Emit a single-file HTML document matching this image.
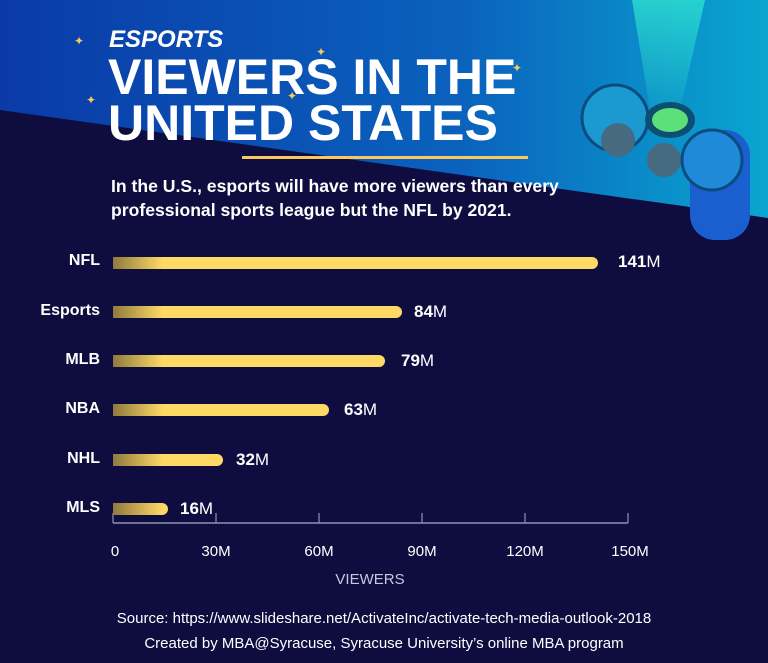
<!DOCTYPE html>
<html><head><meta charset="utf-8"><style>
body{margin:0;width:768px;height:663px;overflow:hidden;background:#0f0d40;font-family:"Liberation Sans",sans-serif;}
.wrap{position:relative;width:768px;height:663px;}
.t{position:absolute;color:#fff;white-space:nowrap}
.lab{position:absolute;right:668px;font-weight:bold;font-size:16px;color:#fff}
.bar{position:absolute;left:113px;height:12px;border-radius:0 6px 6px 0;background:linear-gradient(90deg,#8f7a3e 0px,#ffd966 50px,#ffd966 100%)}
.val{position:absolute;color:#fff;font-size:17px}
.tk{position:absolute;font-size:15px;color:#fff;transform:translateX(-50%)}
</style></head><body><div class="wrap">
<svg width="768" height="663" style="position:absolute;left:0;top:0">
<defs><linearGradient id="g" x1="0" y1="0" x2="1" y2="0"><stop offset="0" stop-color="#0a3aa8"/><stop offset="0.6" stop-color="#0a62bd"/><stop offset="1" stop-color="#0aa6cf"/></linearGradient>
<linearGradient id="b" x1="0" y1="0" x2="0" y2="1"><stop offset="0" stop-color="#2ee0d0" stop-opacity="0.8"/><stop offset="1" stop-color="#2ee0d0" stop-opacity="0.1"/></linearGradient></defs>
<polygon points="0,0 768,0 768,218 0,110" fill="url(#g)"/>
<polygon points="632,0 705,0 680,110 650,110" fill="url(#b)"/>
<g>
<rect x="690" y="130" width="60" height="110" rx="25" fill="#1a5fd0"/>
<circle cx="615" cy="118" r="33" fill="#1a9ad0" stroke="#0d4a80" stroke-width="3"/>
<ellipse cx="670" cy="120" rx="25" ry="18" fill="#0c4f70"/>
<ellipse cx="670" cy="120" rx="18" ry="12" fill="#5be07a"/>
<circle cx="618" cy="140" r="17" fill="#466a80"/>
<circle cx="664" cy="160" r="17" fill="#466a80"/>
<circle cx="712" cy="160" r="30" fill="#1f8ad8" stroke="#0d4a80" stroke-width="3"/>
</g>
<rect x="242" y="156" width="286" height="3" fill="#f6c85f"/>
<line x1="113" y1="523" x2="628" y2="523" stroke="#9090b0" stroke-width="1.5"/>
<g stroke="#9090b0" stroke-width="1.2">
<line x1="113" y1="513" x2="113" y2="523"/><line x1="216" y1="513" x2="216" y2="523"/><line x1="319" y1="513" x2="319" y2="523"/><line x1="422" y1="513" x2="422" y2="523"/><line x1="525" y1="513" x2="525" y2="523"/><line x1="628" y1="513" x2="628" y2="523"/>
</g>
<g fill="#f6c85f" font-size="12"><text x="74" y="45">✦</text><text x="86" y="104">✦</text><text x="316" y="56">✦</text><text x="287" y="100">✦</text><text x="512" y="72">✦</text></g>
</svg>
<div class="t" style="left:109px;top:26px;font-size:24px;font-weight:bold;font-style:italic">ESPORTS</div>
<div class="t" style="left:108px;top:54px;font-size:50px;font-weight:bold;line-height:46px;transform:scaleX(1.0);transform-origin:0 0">VIEWERS IN THE<br>UNITED STATES</div>
<div class="t" style="left:111px;top:174px;font-size:17.6px;font-weight:bold;line-height:24px">In the U.S., esports will have more viewers than every<br>professional sports league but the NFL by 2021.</div>

<div class="lab" style="top:252px">NFL</div><div class="bar" style="top:257px;width:485px"></div><div class="val" style="left:618px;top:252px"><b>141</b>M</div>
<div class="lab" style="top:302px">Esports</div><div class="bar" style="top:306px;width:289px"></div><div class="val" style="left:414px;top:302px"><b>84</b>M</div>
<div class="lab" style="top:351px">MLB</div><div class="bar" style="top:355px;width:272px"></div><div class="val" style="left:401px;top:351px"><b>79</b>M</div>
<div class="lab" style="top:400px">NBA</div><div class="bar" style="top:404px;width:216px"></div><div class="val" style="left:344px;top:400px"><b>63</b>M</div>
<div class="lab" style="top:450px">NHL</div><div class="bar" style="top:454px;width:110px"></div><div class="val" style="left:236px;top:450px"><b>32</b>M</div>
<div class="lab" style="top:499px">MLS</div><div class="bar" style="top:503px;width:55px"></div><div class="val" style="left:180px;top:499px"><b>16</b>M</div>

<div class="tk" style="left:115px;top:543px">0</div>
<div class="tk" style="left:216px;top:543px">30M</div>
<div class="tk" style="left:319px;top:543px">60M</div>
<div class="tk" style="left:422px;top:543px">90M</div>
<div class="tk" style="left:525px;top:543px">120M</div>
<div class="tk" style="left:630px;top:543px">150M</div>
<div class="tk" style="left:370px;top:571px;color:#c8c8e0">VIEWERS</div>
<div class="t" style="left:0;width:768px;text-align:center;top:610px;font-size:15px">Source: https://www.slideshare.net/ActivateInc/activate-tech-media-outlook-2018</div>
<div class="t" style="left:0;width:768px;text-align:center;top:635px;font-size:15px">Created by MBA@Syracuse, Syracuse University’s online MBA program</div>
</div></body></html>
